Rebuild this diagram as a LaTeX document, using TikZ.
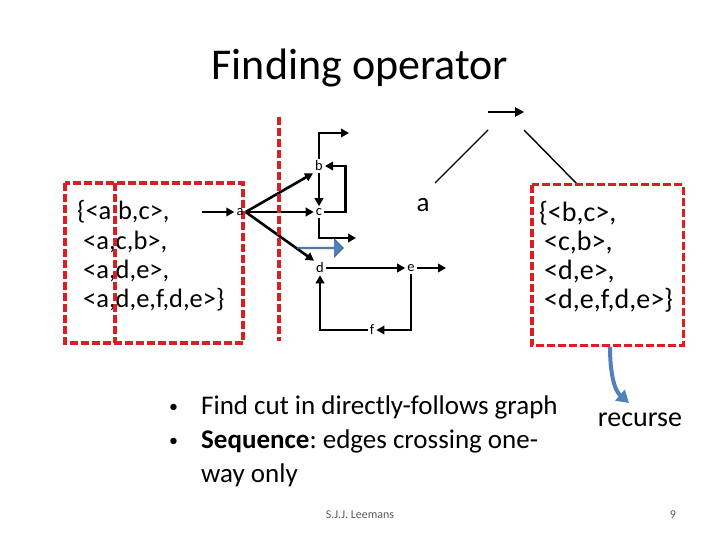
\documentclass[tikz,border=0pt]{standalone}
\usepackage{fontspec}
\setmainfont{Carlito}
\usetikzlibrary{arrows.meta,shapes.arrows}
\definecolor{dashred}{RGB}{220,30,35}
\definecolor{slideblue}{RGB}{79,129,189}
\definecolor{slideblueedge}{RGB}{56,93,138}
\definecolor{footgray}{RGB}{90,90,90}
\frenchspacing
\begin{document}
\begin{tikzpicture}[x=1pt,y=-1pt,
  redbox/.style={draw=dashred,line width=3.4pt,dash pattern=on 8pt off 3pt},
  edge/.style={line width=2.6pt,-{Triangle[length=8pt,width=8.5pt]}},
  plain/.style={line width=1.4pt},
  lbl/.style={font=\fontsize{14.5}{16}\selectfont,inner sep=2pt},
  big/.style={font=\fontsize{26.5}{30}\selectfont,inner sep=0pt,anchor=base west},
  bigr/.style={font=\fontsize{28}{32}\selectfont,inner sep=0pt,anchor=base west},
  bul/.style={font=\fontsize{27}{31}\selectfont,inner sep=0pt,anchor=base west},
  dot/.style={font=\fontsize{18}{20}\selectfont,inner sep=0pt,anchor=base west},
  foot/.style={font=\fontsize{12}{14}\selectfont,text=footgray,inner sep=0pt},
]
\useasboundingbox (0,0) rectangle (720,540);

% title
\node[font=\fontsize{44}{50}\selectfont,inner sep=0pt] (title) at (360,68) {Finding operator};

% left log box
\node[big] (l1) at (77,220) {\{<a,b,c>,};
\node[big] (l2) at (83,249) {<a,c,b>,};
\node[big] (l3) at (83,278) {<a,d,e>,};
\node[big] (l4) at (83,307) {<a,d,e,f,d,e>\}};
\draw[redbox] (65,183) rectangle (243,343);
\coordinate (cutTop) at (115,183);
\coordinate (cutBot) at (115,343);
\draw[redbox] (cutTop) -- (cutBot);

% directly-follows graph
\coordinate (start) at (202,212);
\node[lbl] (a) at (240,212) {a};
\node[lbl] (b) at (319,166) {b};
\node[lbl] (c) at (319,212) {c};
\node[lbl] (d) at (320,268) {d};
\node[lbl] (e) at (411,268) {e};
\node[lbl] (f) at (372,330) {f};
\coordinate (bout) at (349,133);
\coordinate (cout) at (356,238);
\coordinate (eout) at (446,268);

\draw[edge] (start) -- (a);
\draw[edge] (a.east) -- (b.south west);
\draw[edge] (a.east) -- (c.west);
\draw[edge] (a.east) -- (d.north west);
\draw[edge] (b.north) |- (bout);
\draw[edge] (b.south) -- (c.north);
\draw[edge] (c.east) -- ++(21,0) |- (b.east);
\draw[edge] (c.south) |- (cout);
\draw[edge] (d.east) -- (e.west);
\draw[edge] (e.east) -- (eout);
\draw[edge] (e.south) |- (f.east);
\draw[edge] (f.west) -| (d.south);

% cut line
\coordinate (vcTop) at (279,117);
\coordinate (vcBot) at (279,341);
\draw[redbox] (vcTop) -- (vcBot);

% blue block arrow
\node[single arrow, fill=slideblue, draw=slideblueedge, line width=0.6pt,
      minimum height=46pt, minimum width=18pt, single arrow head extend=3.5pt,
      single arrow head indent=0pt, inner sep=0pt] (blk) at (320,248) {};

% process tree
\node[inner sep=0pt, minimum width=36pt, minimum height=6pt] (op) at (506,112) {};
\draw[line width=2pt,-{Triangle[length=9pt,width=9pt]}] (op.west) -- (op.east);
\node[font=\fontsize{27}{30}\selectfont,inner sep=0pt] (ta) at (423,205) {a};
\node[minimum width=151pt, minimum height=160pt, inner sep=0pt] (rbox) at (607.5,265) {};
\coordinate (tl1) at (488,130);
\coordinate (tl2) at (435,183);
\coordinate (tr1) at (524,130);
\coordinate (tr2) at (578,185);
\draw[plain] (tl1) -- (tl2);
\draw[plain] (tr1) -- (tr2);

% right log box
\node[bigr] (r1) at (539,222) {\{<b,c>,};
\node[bigr] (r2) at (544,250) {<c,b>,};
\node[bigr] (r3) at (544,279) {<d,e>,};
\node[bigr] (r4) at (544,308) {<d,e,f,d,e>\}};
\draw[redbox] (rbox.north west) rectangle (rbox.south east);

% recurse
\node[font=\fontsize{28}{32}\selectfont,inner sep=0pt] (rec) at (640,420) {recurse};
\coordinate (recTip) at (629,403);
\draw[slideblue,line width=4pt,-{Triangle[length=12pt,width=14pt]}]
  (610,347) .. controls (610,372) and (614,390) .. (recTip);

% bullets
\node[dot] (b1) at (169,412) {•};
\node[bul] (t1) at (201,414) {Find cut in directly-follows graph};
\node[dot] (b2) at (169,446) {•};
\node[bul] (t2) at (201,448) {\textbf{Sequence}: edges crossing one-};
\node[bul] (t3) at (201,482) {way only};

% footer
\node[foot] (author) at (360,515) {S.J.J. Leemans};
\node[foot] (page) at (673,515) {9};
\end{tikzpicture}
\end{document}
